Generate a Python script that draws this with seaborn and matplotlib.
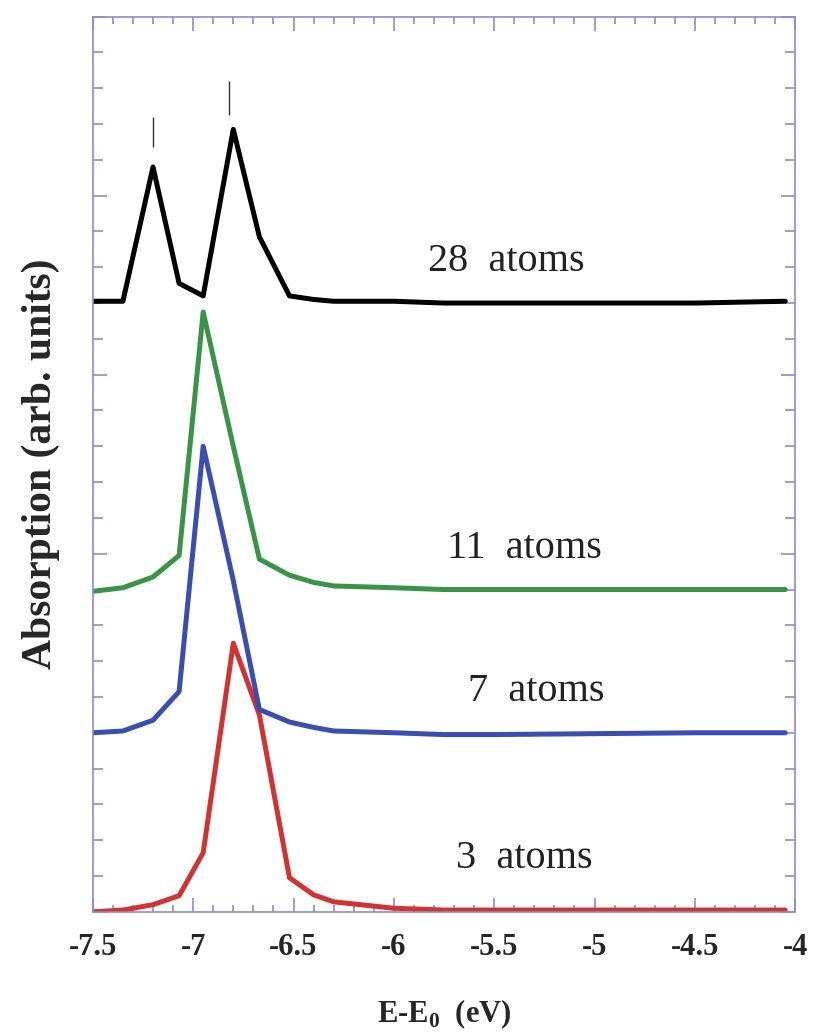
import matplotlib
matplotlib.use('agg')
import matplotlib.pyplot as plt
from matplotlib.ticker import MultipleLocator
import seaborn as sns
import pandas as pd

# energy grid (eV) shared by all curves
energy = [-7.5, -7.35, -7.2, -7.07, -6.95, -6.8, -6.67, -6.52, -6.4, -6.3,
          -6.0, -5.75, -5.5, -4.5, -4.05]

# absorption curves, already offset vertically
abs_3 = [0.00, 0.01, 0.04, 0.09, 0.33, 1.50, 1.10, 0.19, 0.095, 0.056,
         0.02, 0.01, 0.01, 0.01, 0.01]
abs_7 = [1.00, 1.01, 1.07, 1.23, 2.60, 1.85, 1.13, 1.06, 1.03, 1.01,
         1.00, 0.99, 0.99, 1.00, 1.00]
abs_11 = [1.79, 1.81, 1.87, 1.99, 3.35, 2.60, 1.97, 1.88, 1.84, 1.82,
          1.81, 1.80, 1.80, 1.80, 1.80]
abs_28 = [3.41, 3.41, 4.16, 3.51, 3.44, 4.37, 3.77, 3.44, 3.42, 3.41,
          3.41, 3.40, 3.40, 3.40, 3.41]

labels = ['3  atoms', '7  atoms', '11  atoms', '28  atoms']
label_x = [-5.35, -5.29, -5.35, -5.44]
label_y = [0.30, 1.23, 2.03, 3.63]
colors = ['#d23232', '#3a4db0', '#3a9448', '#000000']

# peak markers for the 28-atom cluster
marker_x = [-7.2, -6.82]
marker_lo = [4.27, 4.45]
marker_hi = [4.44, 4.64]

rows = []
for lab, vals in zip(labels, [abs_3, abs_7, abs_11, abs_28]):
    for e, v in zip(energy, vals):
        rows.append({'energy': e, 'absorption': v, 'cluster': lab})
df = pd.DataFrame(rows)

sns.set_style('ticks')
plt.rcParams['font.family'] = ['Liberation Serif', 'DejaVu Serif']
plt.rcParams['mathtext.fontset'] = 'custom'
plt.rcParams['mathtext.rm'] = 'Liberation Serif'
plt.rcParams['mathtext.bf'] = 'Liberation Serif:bold'

fig = plt.figure(figsize=(8.14, 10.35), dpi=100)
ax = fig.add_axes([0.114, 0.119, 0.863, 0.865])

sns.lineplot(data=df, x='energy', y='absorption', hue='cluster',
             palette=dict(zip(labels, colors)), linewidth=3.6,
             legend=False, ax=ax, sort=False)

for lab, x, y in zip(labels, label_x, label_y):
    ax.text(x, y, lab, ha='center', va='center', fontsize=29,
            color='#222222')

ax.vlines(marker_x, marker_lo, marker_hi, color='#333333', linewidth=1)

ax.set_xlim(-7.5, -4)
ax.set_ylim(0, 5)
ax.xaxis.set_major_locator(MultipleLocator(0.5))
ax.xaxis.set_minor_locator(MultipleLocator(0.1))
ax.yaxis.set_major_locator(MultipleLocator(1))
ax.yaxis.set_minor_locator(MultipleLocator(0.2))

frame = '#8c8cc8'
for s in ax.spines.values():
    s.set_color(frame)
    s.set_linewidth(1.2)
ax.tick_params(which='both', direction='in', top=True, right=True,
               color=frame, width=1.2)
ax.tick_params(which='major', length=10)
ax.tick_params(axis='x', which='minor', length=5)
ax.tick_params(axis='y', which='minor', length=7)
ax.tick_params(axis='y', labelleft=False)
ax.tick_params(axis='x', labelsize=22, pad=15)
ax.set_xticks([-7.5, -7, -6.5, -6, -5.5, -5, -4.5, -4])
ax.set_xticklabels(['-7.5', '-7', '-6.5', '-6', '-5.5', '-5', '-4.5', '-4'],
                   fontweight='bold')

ax.set_xlabel(r'E-E$_\mathbf{0}$  (eV)', fontsize=22, fontweight='bold',
              labelpad=26)
ax.set_ylabel('Absorption (arb. units)', fontsize=30, fontweight='bold',
              labelpad=20)

fig.savefig('out.png', dpi=100)
